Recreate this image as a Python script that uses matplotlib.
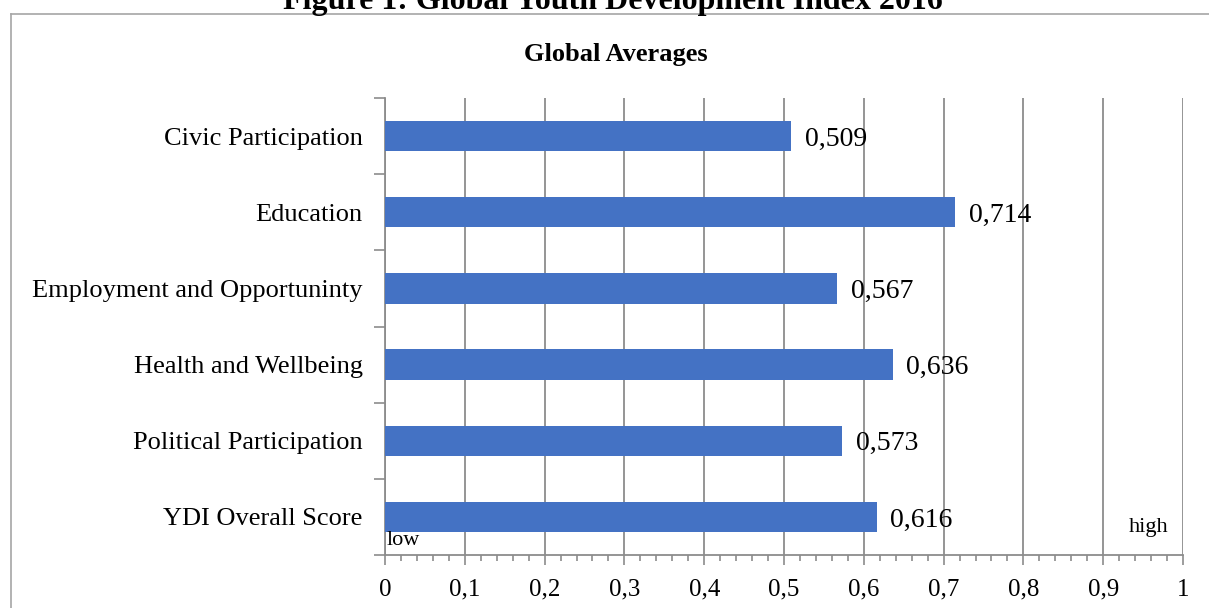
import numpy as np
import matplotlib
matplotlib.use("Agg")
import matplotlib.pyplot as plt
from matplotlib.lines import Line2D

## Data
categories = [
    "Civic Participation",
    "Education",
    "Employment and Opportuninty",
    "Health and Wellbeing",
    "Political Participation",
    "YDI Overall Score",
]
scores = [0.509, 0.714, 0.567, 0.636, 0.573, 0.616]
score_labels = ["0,509", "0,714", "0,567", "0,636", "0,573", "0,616"]
x_ticks = [0, 0.1, 0.2, 0.3, 0.4, 0.5, 0.6, 0.7, 0.8, 0.9, 1]
x_tick_labels = ["0", "0,1", "0,2", "0,3", "0,4", "0,5", "0,6", "0,7", "0,8", "0,9", "1"]

plt.rcParams["font.family"] = ["Liberation Serif", "DejaVu Serif"]

grey = "#8c8c8c"
bar_color = "#4472c4"

fig = plt.figure(figsize=(12.09, 6.08), dpi=100)
ax = fig.add_axes([385 / 1209, 1 - 555 / 608, (1183 - 385) / 1209, (555 - 98) / 608])

# outer frame (chart area border), partly off the page
fig.add_artist(Line2D([11 / 1209, 11 / 1209], [0, 1 - 14 / 608], transform=fig.transFigure,
                      color="#a6a6a6", lw=1.2))
fig.add_artist(Line2D([11 / 1209, 1], [1 - 14 / 608, 1 - 14 / 608], transform=fig.transFigure,
                      color="#a6a6a6", lw=1.2))

fig.text(613 / 1209, 1 - 9 / 608, "Figure 1: Global Youth Development Index 2016", ha="center",
         va="baseline", fontsize=23, fontweight="bold")
fig.text(616 / 1209, 1 - 55 / 608, "Global Averages", ha="center", va="center",
         fontsize=19, fontweight="bold")

ypos = np.arange(len(categories))
ax.barh(ypos, scores, height=0.4, color=bar_color, zorder=3)
for y, val, lbl in zip(ypos, scores, score_labels):
    ax.annotate(lbl, (val, y), xytext=(10, 0), textcoords="offset points",
                ha="left", va="center_baseline", fontsize=20, zorder=4)

ax.set_xlim(0, 1)
ax.set_ylim(len(categories) - 0.5, -0.5)

ax.set_xticks(x_ticks)
ax.set_xticklabels(x_tick_labels, fontsize=18)
ax.set_xticks(np.arange(0, 1.001, 0.02), minor=True)
ax.tick_params(axis="x", which="major", length=7, width=1.2, color=grey, pad=10)
ax.tick_params(axis="x", which="minor", length=4, width=1.2, color=grey)

ax.set_yticks(ypos)
ax.set_yticklabels(categories, fontsize=19)
ax.set_yticks(np.arange(-0.5, len(categories), 1), minor=True)
ax.tick_params(axis="y", which="major", length=0, pad=16)
ax.tick_params(axis="y", which="minor", length=8, width=1.2, color=grey)

ax.grid(axis="x", which="major", color=grey, lw=1.3, zorder=0)
for side in ["top", "right"]:
    ax.spines[side].set_visible(False)
for side in ["left", "bottom"]:
    ax.spines[side].set_color(grey)
    ax.spines[side].set_linewidth(1.3)

ax.text(0.002, 5.37, "low", fontsize=16, ha="left", va="baseline")
ax.text(0.932, 5.2, "high", fontsize=16, ha="left", va="baseline")

fig.savefig("out.png", dpi=100)
